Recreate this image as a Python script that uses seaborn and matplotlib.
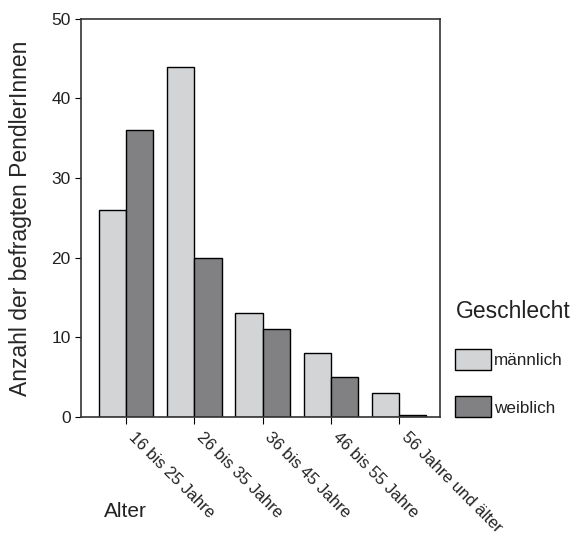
import pandas as pd
import matplotlib.pyplot as plt
import matplotlib.transforms as mtransforms
import seaborn as sns

alter = ["16 bis 25 Jahre", "26 bis 35 Jahre", "36 bis 45 Jahre", "46 bis 55 Jahre", "56 Jahre und älter"]
maennlich = [26, 44, 13, 8, 3]
weiblich = [36, 20, 11, 5, 0.2]

df = pd.DataFrame({
    "Alter": alter * 2,
    "Anzahl": maennlich + weiblich,
    "Geschlecht": ["männlich"] * 5 + ["weiblich"] * 5,
})

sns.set_style("ticks")
plt.rcParams["font.family"] = ["Liberation Sans", "DejaVu Sans"]
plt.rcParams["text.color"] = "#222222"

fig = plt.figure(figsize=(5.7, 5.36), dpi=100)
ax = fig.add_axes([0.142, 0.222, 0.63, 0.743])

sns.barplot(data=df, x="Alter", y="Anzahl", hue="Geschlecht",
            palette={"männlich": "#d3d4d6", "weiblich": "#808184"},
            edgecolor="black", linewidth=1, width=0.8, ax=ax)

ax.set_ylim(0, 50)
ax.set_xlim(-0.66, 4.6)
ax.set_yticks([0, 10, 20, 30, 40, 50])
ax.tick_params(axis="y", labelsize=12.5, length=4, color="black", labelcolor="#222222")
ax.tick_params(axis="x", labelsize=12, length=5, color="black", labelcolor="#222222")
for s in ax.spines.values():
    s.set_visible(True)
    s.set_color("#333333")
    s.set_linewidth(1.2)

# schraege Beschriftung, etwas nach rechts versetzt
shift = mtransforms.ScaledTranslation(10 / 100, -1 / 100, fig.dpi_scale_trans)
for lab in ax.get_xticklabels():
    lab.set_rotation(-45)
    lab.set_ha("left")
    lab.set_va("top")
    lab.set_rotation_mode("anchor")
    lab.set_transform(lab.get_transform() + shift)

ax.set_ylabel("Anzahl der befragten PendlerInnen", fontsize=16.5, labelpad=14)
ax.set_xlabel("")
fig.text(0.183, 0.035, "Alter", fontsize=15)

leg = ax.legend(title="Geschlecht", loc="center left", bbox_to_anchor=(1.0, 0.147),
                frameon=False, fontsize=12.3, title_fontsize=16.5,
                handlelength=2.1, handleheight=1.5, labelspacing=1.55, handletextpad=0.15)
leg._legend_box.align = "left"

plt.savefig("out.png", dpi=100)
